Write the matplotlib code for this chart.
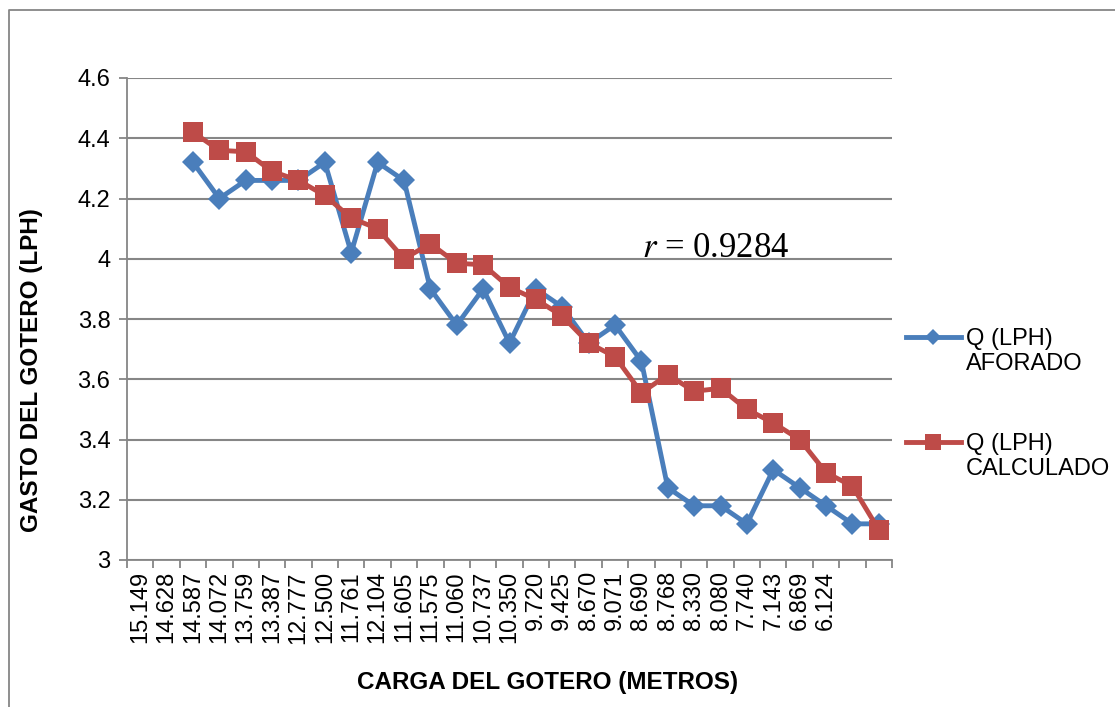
import matplotlib
matplotlib.use("Agg")
import matplotlib.pyplot as plt
from matplotlib.lines import Line2D

plt.rcParams['font.family'] = ['Liberation Sans', 'DejaVu Sans']
plt.rcParams['mathtext.fontset'] = 'stix'

# -------------------------------
# 1. Data
# -------------------------------
carga = ["15.149", "14.628", "14.587", "14.072", "13.759", "13.387", "12.777",
         "12.500", "11.761", "12.104", "11.605", "11.575", "11.060", "10.737",
         "10.350", "9.720", "9.425", "8.670", "9.071", "8.690", "8.768",
         "8.330", "8.080", "7.740", "7.143", "6.869", "6.124", "", ""]

q_aforado = [None, None, 4.32, 4.20, 4.26, 4.26, 4.26, 4.32, 4.02, 4.32, 4.26,
             3.90, 3.78, 3.90, 3.72, 3.90, 3.84, 3.72, 3.78, 3.66, 3.24,
             3.18, 3.18, 3.12, 3.30, 3.24, 3.18, 3.12, 3.12]

q_calculado = [None, None, 4.42, 4.36, 4.355, 4.29, 4.26, 4.21, 4.135, 4.10,
               4.00, 4.05, 3.985, 3.98, 3.905, 3.865, 3.81, 3.72, 3.675,
               3.555, 3.615, 3.56, 3.57, 3.50, 3.455, 3.40, 3.29, 3.245, 3.10]

y_ticks = [3, 3.2, 3.4, 3.6, 3.8, 4, 4.2, 4.4, 4.6]
y_tick_labels = ["3", "3.2", "3.4", "3.6", "3.8", "4", "4.2", "4.4", "4.6"]

BLUE = "#4A7EBB"
RED = "#BE4B48"
GRAY = "#868686"

# -------------------------------
# 2. Figure
# -------------------------------
fig = plt.figure(figsize=(11.15, 7.07), dpi=100)
ax = fig.add_axes([127 / 1115, 1 - 560 / 707, (892 - 127) / 1115, (560 - 78) / 707])

x = list(range(len(carga)))
xa = [i for i, v in zip(x, q_aforado) if v is not None]
ya = [v for v in q_aforado if v is not None]
xc = [i for i, v in zip(x, q_calculado) if v is not None]
yc = [v for v in q_calculado if v is not None]

ax.plot(xa, ya, color=BLUE, lw=3.5, marker="D", ms=11, mew=0, zorder=3)
ax.plot(xc, yc, color=RED, lw=3.5, marker="s", ms=14, mew=0, zorder=4)

ax.set_xlim(-0.5, len(carga) - 0.5)
ax.set_ylim(3, 4.6)
ax.set_yticks(y_ticks)
ax.set_yticklabels(y_tick_labels, fontsize=17)
ax.set_xticks(x)
ax.set_xticklabels(carga, rotation=90, fontsize=17)
ax.set_xticks([i - 0.5 for i in range(len(carga) + 1)], minor=True)
ax.tick_params(axis="x", which="major", length=0, pad=8)
ax.tick_params(axis="x", which="minor", length=6, color=GRAY, width=1.3)
ax.tick_params(axis="y", length=6, color=GRAY, width=1.3, pad=6)

ax.grid(axis="y", color=GRAY, lw=1.5)
ax.set_axisbelow(True)
for s in ["top", "right"]:
    ax.spines[s].set_visible(False)
for s in ["left", "bottom"]:
    ax.spines[s].set_color(GRAY)
    ax.spines[s].set_linewidth(1.3)

ax.text(21.8, 4.005, r"$r$ = 0.9284", fontsize=25, ha="center", va="baseline",
        family="Liberation Serif")

fig.text(548 / 1115, 1 - 683 / 707, "CARGA DEL GOTERO (METROS)", fontsize=17.5,
         fontweight="bold", ha="center", va="center")
fig.text(32 / 1115, 1 - 370 / 707, "GASTO DEL GOTERO (LPH)", fontsize=17.5,
         fontweight="bold", ha="center", va="center", rotation=90)

# -------------------------------
# 3. Legend (drawn by hand, entries far apart)
# -------------------------------
for color, marker, ms, ypix, label in [
        (BLUE, "D", 8, 337, "Q (LPH)\nAFORADO"),
        (RED, "s", 11, 442, "Q (LPH)\nCALCULADO")]:
    yf = 1 - ypix / 707
    fig.add_artist(Line2D([906 / 1115, 961 / 1115], [yf, yf], color=color, lw=3.5,
                          transform=fig.transFigure))
    fig.add_artist(Line2D([933 / 1115], [yf], color=color, marker=marker, ms=ms,
                          mew=0, transform=fig.transFigure))
    fig.text(966 / 1115, 1 - (ypix - 9) / 707, label, fontsize=17, ha="left",
             va="top", linespacing=1.15)

# outer chart border
fig.add_artist(Line2D([9 / 1115, 9 / 1115, 1.0], [0, 1 - 9.5 / 707, 1 - 9.5 / 707],
                      color=GRAY, lw=1.3, transform=fig.transFigure))

fig.savefig("out.png", dpi=100, facecolor="white")
